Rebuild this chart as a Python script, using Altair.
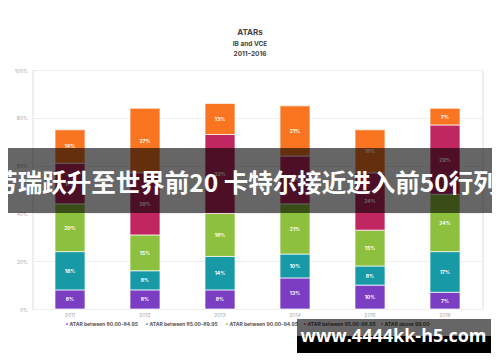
import altair as alt
import pandas as pd

years = ["2011", "2012", "2013", "2014", "2015", "2016"]
series = ["ATAR between 80.00-84.95", "ATAR between 85.00-89.95",
          "ATAR between 90.00-94.95", "ATAR between 95.00-98.95", "ATAR above 99.00"]
colors = ["#7b3dc2", "#1799a6", "#8cc03e", "#c02660", "#f97522"]

purple = [8, 8, 8, 13, 10, 7]
teal = [16, 8, 14, 10, 8, 17]
green = [20, 15, 18, 21, 15, 24]
pink = [17, 26, 33, 20, 24, 29]
orange = [14, 27, 13, 21, 18, 7]

y_ticks = [0, 10, 20, 30, 40, 50, 60, 70, 80, 90, 100]
banner_text = "劳瑞跃升至世界前20 卡特尔接近进入前50行列"
watermark_text = "www.4444kk-h5.com"

rows = []
for i, yr in enumerate(years):
    base = 0
    for k, vals in enumerate([purple, teal, green, pink, orange]):
        v = vals[i]
        rows.append({"year": yr, "series": series[k], "order": k, "value": v,
                     "start": base, "end": base + v, "mid": base + v / 2,
                     "label": f"{v}%"})
        base += v
df = pd.DataFrame(rows)

xenc = alt.X("year:N", sort=years,
             scale=alt.Scale(paddingInner=0, paddingOuter=0),
             axis=alt.Axis(title=None, labelAngle=0, labelFontSize=5, labelColor="#aaa",
                           domain=False, ticks=False, labelPadding=3))
yenc = alt.Y("start:Q", scale=alt.Scale(domain=[0, 100]),
             axis=alt.Axis(title=None, values=y_ticks, labelExpr="datum.value + '%'",
                           labelFontSize=5, labelColor="#aaa", domain=False, ticks=False,
                           gridColor="#eeeeee", labelPadding=5))

bars = alt.Chart(df).mark_bar(size=30, stroke="white", strokeWidth=0.7).encode(
    x=xenc, y=yenc, y2="end:Q",
    color=alt.Color("series:N", sort=series,
                    scale=alt.Scale(domain=series, range=colors), legend=None),
    order=alt.Order("order:Q"),
)

labels = alt.Chart(df).mark_text(color="white", fontSize=5, fontWeight="bold").encode(
    x=alt.X("year:N", sort=years), y=alt.Y("mid:Q"), text="label:N")

tdf = pd.DataFrame({"t": ["ATARs"], "s1": ["IB and VCE"], "s2": ["2011–2016"]})
t1 = alt.Chart(tdf).mark_text(fontSize=8, fontWeight="bold", color="#444", font="Inter").encode(
    x=alt.value(217.5), y=alt.value(-37), text="t:N")
t2 = alt.Chart(tdf).mark_text(fontSize=6.5, fontWeight="bold", color="#444", font="Inter").encode(
    x=alt.value(217.5), y=alt.value(-26.5), text="s1:N")
t3 = alt.Chart(tdf).mark_text(fontSize=6.5, fontWeight="bold", color="#444", font="Inter").encode(
    x=alt.value(217.5), y=alt.value(-16), text="s2:N")

# legend entries (drawn as text, beneath the watermark)
legend_x = [37, 117, 197, 275, 352]
ldf = pd.DataFrame({"s": series})
legend_layers = []
for k, s in enumerate(series):
    legend_layers.append(
        alt.Chart(pd.DataFrame({"s": [s]})).mark_text(
            fontSize=5, fontWeight="bold", color="#555", align="left", font="Inter").encode(
            x=alt.value(legend_x[k]), y=alt.value(254), text=alt.Text("s:N")))
    legend_layers.append(
        alt.Chart(pd.DataFrame({"s": [s]})).mark_text(
            fontSize=6, fontWeight="bold", color=colors[k], align="left").encode(
            x=alt.value(legend_x[k] - 4), y=alt.value(254), text=alt.value("•")))

bdf = pd.DataFrame({"t": [banner_text], "w": [watermark_text]})
banner = alt.Chart(bdf).mark_rect(color="black", opacity=0.6).encode(
    x=alt.value(-40), x2=alt.value(470), y=alt.value(78), y2=alt.value(143))
banner_t = alt.Chart(bdf).mark_text(fontSize=24.5, fontWeight="bold", color="white",
                                    font="Noto Sans CJK SC").encode(
    x=alt.value(213), y=alt.value(115), text="t:N")
wm1 = alt.Chart(bdf).mark_rect(color="black", opacity=0.6).encode(
    x=alt.value(264.5), x2=alt.value(458.5), y=alt.value(249), y2=alt.value(266))
wm2 = alt.Chart(bdf).mark_rect(color="black").encode(
    x=alt.value(264.5), x2=alt.value(458.5), y=alt.value(266), y2=alt.value(283))
wm_t = alt.Chart(bdf).mark_text(fontSize=18, fontWeight="bold", color="white",
                                font="Open Sans").encode(
    x=alt.value(361), y=alt.value(267), text="w:N")

chart = alt.layer(bars, labels, t1, t2, t3, *legend_layers, banner, banner_t, wm1, wm2, wm_t).properties(
    width=450, height=239,
    autosize=alt.AutoSizeParams(type="none"),
    padding={"left": 24.5, "top": 62, "right": 9, "bottom": 53},
).configure_view(stroke=None).configure(font="Inter")

chart.save("out.html", embed_options={"renderer": "svg", "actions": False})
